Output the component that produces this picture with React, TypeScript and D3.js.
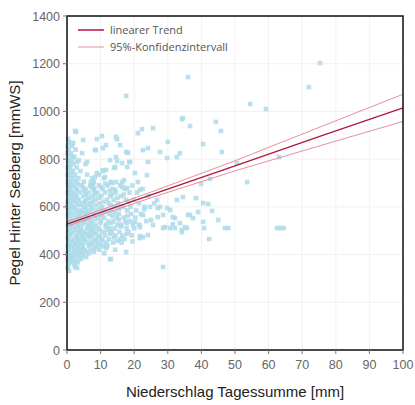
import React from "react";
import * as d3 from "d3";

// Niederschlag [mm] / Pegel [mmWS]
const kernPunkte: [number, number][] = [
  [0.3, 690], [1.8, 690], [4.2, 690], [6.9, 690], [9.5, 690], [12.1, 690], [15.8, 690], [19.4, 690],
  [0.8, 675], [2.9, 675], [5.5, 675], [8.1, 675], [10.7, 675], [13.6, 675], [17.2, 675], [22.5, 675],
  [0.2, 660], [1.6, 660], [3.8, 660], [6.4, 660], [9.0, 660], [11.3, 660], [14.5, 660], [18.6, 660], [20.9, 660],
  [1.1, 645], [2.7, 645], [4.9, 645], [7.6, 645], [10.2, 645], [12.8, 645], [16.1, 645], [24.3, 645],
  [0.4, 630], [2.0, 630], [3.5, 630], [5.8, 630], [8.4, 630], [11.9, 630], [13.9, 630], [17.5, 630], [19.8, 630],
  [0.9, 615], [3.1, 615], [4.6, 615], [6.8, 615], [9.7, 615], [12.4, 615], [15.2, 615], [21.4, 615], [26.0, 615],
  [0.1, 600], [1.5, 600], [2.4, 600], [5.1, 600], [7.3, 600], [10.5, 600], [14.1, 600], [16.7, 600], [18.9, 600], [23.1, 600],
  [0.7, 585], [3.3, 585], [4.4, 585], [6.1, 585], [8.8, 585], [11.5, 585], [13.0, 585], [17.9, 585], [20.6, 585],
  [0.3, 570], [1.9, 570], [3.9, 570], [5.6, 570], [7.9, 570], [9.9, 570], [12.6, 570], [15.4, 570], [19.1, 570], [22.0, 570],
  [1.2, 555], [2.6, 555], [4.8, 555], [6.6, 555], [9.2, 555], [11.0, 555], [14.8, 555], [16.9, 555], [20.3, 555],
  [0.5, 540], [2.2, 540], [3.6, 540], [5.3, 540], [7.1, 540], [10.1, 540], [12.2, 540], [13.8, 540], [17.4, 540], [18.8, 540], [23.6, 540],
  [0.2, 525], [1.4, 525], [3.0, 525], [4.3, 525], [6.3, 525], [8.5, 525], [11.7, 525], [15.0, 525], [16.2, 525], [19.6, 525], [21.5, 525],
  [0.8, 510], [2.4, 510], [4.0, 510], [5.9, 510], [7.7, 510], [9.4, 510], [12.9, 510], [14.2, 510], [17.7, 510], [20.0, 510],
  [0.3, 495], [1.7, 495], [3.4, 495], [5.0, 495], [6.7, 495], [8.2, 495], [10.8, 495], [13.3, 495], [15.6, 495], [18.3, 495],
  [1.0, 480], [2.8, 480], [4.5, 480], [6.2, 480], [7.4, 480], [9.8, 480], [11.4, 480], [14.4, 480], [16.5, 480], [19.3, 480],
  [0.4, 465], [2.1, 465], [3.7, 465], [5.4, 465], [8.6, 465], [10.3, 465], [12.5, 465], [15.9, 465], [17.1, 465],
  [0.9, 450], [2.5, 450], [4.1, 450], [6.0, 450], [7.2, 450], [9.1, 450], [11.8, 450], [13.7, 450], [16.3, 450],
  [0.2, 435], [1.6, 435], [3.2, 435], [4.7, 435], [6.5, 435], [8.9, 435], [10.6, 435], [12.0, 435],
  [0.6, 420], [2.3, 420], [3.9, 420], [5.2, 420], [7.0, 420], [9.6, 420], [14.3, 420],
  [0.1, 405], [1.3, 405], [2.9, 405], [4.4, 405], [6.6, 405], [11.1, 405],
  [0.7, 390], [2.0, 390], [3.6, 390], [5.7, 390], [12.8, 381],
  [0.3, 375], [1.5, 375], [2.7, 375],
  [0.5, 360], [2.2, 360], [0.2, 345], [3.0, 344], [2.4, 348], [0.6, 332],
];

const fuellPunkte: [number, number][] = [
  [1.0, 697], [3.2, 697], [7.8, 697], [11.4, 697],
  [0.5, 683], [2.3, 683], [4.7, 683], [7.2, 683], [10.1, 683], [16.5, 683],
  [1.2, 668], [3.0, 668], [5.1, 668], [8.0, 668], [12.7, 668],
  [0.6, 652], [2.2, 652], [5.5, 652], [8.3, 652], [13.3, 652], [16.9, 652],
  [1.4, 638], [3.0, 638], [6.6, 638], [9.5, 638], [15.0, 638],
  [0.2, 622], [2.0, 622], [5.3, 622], [7.6, 622], [11.0, 622], [18.2, 622],
  [1.0, 607], [3.8, 607], [6.0, 607], [8.6, 607], [13.0, 607],
  [0.4, 592], [2.1, 592], [5.4, 592], [7.4, 592], [9.9, 592], [15.6, 592],
  [1.1, 577], [2.9, 577], [4.8, 577], [6.9, 577], [11.0, 577], [14.2, 577],
  [0.3, 562], [3.6, 562], [5.7, 562], [8.0, 562], [10.3, 562], [13.5, 562], [18.0, 562],
  [1.0, 547], [4.0, 547], [6.0, 547], [8.4, 547], [15.5, 547],
  [0.7, 532], [2.6, 532], [5.2, 532], [7.3, 532], [10.0, 532], [13.1, 532], [17.8, 532],
  [1.5, 517], [3.3, 517], [6.6, 517], [8.0, 517], [11.5, 517], [16.0, 517],
  [0.4, 502], [2.4, 502], [4.2, 502], [7.2, 502], [9.7, 502], [12.1, 502],
  [1.2, 487], [3.8, 487], [5.6, 487], [8.5, 487], [12.9, 487], [17.8, 487],
  [0.2, 472], [2.9, 472], [4.7, 472], [6.9, 472], [9.3, 472], [14.0, 472],
  [1.4, 457], [3.2, 457], [5.2, 457], [8.0, 457], [10.6, 457], [15.0, 457],
  [0.5, 442], [2.4, 442], [4.3, 442], [7.5, 442], [9.9, 442],
  [1.2, 427], [3.1, 427], [4.6, 427], [8.2, 427], [11.6, 427],
  [0.5, 412], [2.2, 412], [3.7, 412], [5.6, 412], [8.0, 412],
  [1.2, 397], [2.9, 397], [4.6, 397],
  [0.2, 382], [1.5, 382], [4.2, 382],
  [1.0, 367], [3.2, 367],
];

const randPunkte: [number, number][] = [
  [0.2, 705], [1.3, 705], [2.6, 705], [5.0, 705], [8.0, 705], [13.0, 705],
  [0.6, 720], [1.9, 720], [3.4, 720], [7.5, 720], [11.0, 720],
  [0.1, 735], [1.1, 735], [2.4, 735], [6.0, 735], [9.5, 735],
  [0.5, 750], [1.7, 750], [4.0, 750], [10.7, 750],
  [0.2, 765], [1.0, 765], [2.9, 765], [14.3, 767],
  [0.7, 780], [1.8, 780], [5.5, 780],
  [0.3, 795], [1.4, 795], [3.5, 795],
  [0.8, 810], [2.1, 810], [0.1, 825], [1.2, 825], [4.5, 825],
  [0.5, 840], [2.6, 840], [0.2, 855], [1.5, 855], [0.6, 870], [1.8, 868], [0.3, 885],
];

const streuPunkte: [number, number][] = [
  [2.4, 918], [10.4, 897], [8.9, 884], [4.8, 880], [14.9, 884], [21.1, 909], [22.3, 926], [25.6, 930],
  [34.2, 968], [30.0, 872], [15.8, 859], [8.3, 838], [10.7, 846], [22.6, 838], [24.1, 846], [27.7, 830],
  [18.2, 826], [3.0, 788], [6.0, 788], [12.8, 796], [14.9, 792], [18.8, 788], [24.1, 788], [32.7, 809],
  [29.8, 805], [10.7, 754], [17.9, 767], [8.3, 725], [11.3, 725], [20.2, 742], [21.1, 704], [23.8, 733],
  [13.4, 700], [16.4, 704], [17.9, 679], [14.3, 671], [7.7, 683], [21.7, 671], [26.8, 629], [27.7, 600],
  [32.7, 629], [34.5, 641], [24.7, 600], [29.8, 595], [31.5, 557], [27.0, 557], [22.6, 566], [33.6, 532],
  [20.2, 536], [21.7, 515], [22.6, 473], [25.6, 524], [27.0, 595], [28.6, 566], [30.7, 587], [32.1, 553],
  [36.6, 566], [28.6, 511], [30.7, 511], [32.1, 511], [35.1, 515], [21.7, 469], [13.1, 381], [17.6, 411],
  [28.6, 348], [21.7, 478], [24.1, 482], [29.2, 515], [31.5, 527], [34.2, 503], [2.7, 914], [14.6, 893],
  [11.6, 859], [8.6, 838], [17.6, 830], [14.6, 809], [2.1, 809], [16.4, 784], [18.5, 788], [14.0, 763],
  [11.6, 754], [8.9, 742], [7.1, 704], [14.6, 704], [17.0, 712], [19.5, 455], [23.0, 590], [25.0, 545],
];

const ausreisser: [number, number][] = [
  [75.3, 1203], [36.0, 1144], [17.6, 1065], [72.0, 1102], [54.5, 1031], [59.2, 1010], [34.5, 972],
  [36.6, 939], [44.3, 956], [45.8, 918], [40.5, 863], [33.6, 825], [46.1, 830], [50.6, 784], [63.1, 809],
  [53.6, 704], [39.9, 696], [42.6, 717], [38.4, 637], [40.5, 616], [42.0, 612], [43.2, 583], [36.0, 566],
  [37.5, 553], [39.0, 578], [40.5, 537], [45.0, 545], [35.7, 511], [34.2, 494], [40.8, 511], [47.0, 511],
  [48.0, 511], [62.5, 511], [63.5, 511], [64.5, 511], [42.3, 465],
];

// Regression und Konfidenzintervall
const trendX = [0, 25, 50, 75, 100];
const trendY = [528, 650, 772, 894, 1015];
const kiOben = [537, 662, 793, 933, 1072];
const kiUnten = [519, 638, 751, 855, 958];

const xTicks = [0, 10, 20, 30, 40, 50, 60, 70, 80, 90, 100];
const yTicks = [0, 200, 400, 600, 800, 1000, 1200, 1400];

const W = 415;
const H = 405;
const margin = { top: 16, right: 12, bottom: 55, left: 67 };

export default function App() {
  const x = d3.scaleLinear().domain([0, 100]).range([margin.left, W - margin.right]);
  const y = d3.scaleLinear().domain([0, 1400]).range([H - margin.bottom, margin.top]);

  const alle = [...kernPunkte, ...fuellPunkte, ...randPunkte, ...streuPunkte, ...ausreisser];
  const line = (ys: number[]) =>
    d3.line<number>().x((_, i) => x(trendX[i])).y((d) => y(d))(ys) || "";

  const s = 4.6;
  const x0 = x(0), x1 = x(100), y0 = y(0), y1 = y(1400);

  return (
    <svg
      width={W}
      height={H}
      style={{ position: "absolute", left: 0, top: 0, background: "#fff" }}
      fontFamily="'Liberation Sans', Arial, sans-serif"
    >
      {/* Gitter */}
      {xTicks.map((t) => (
        <line key={"gx" + t} x1={x(t)} x2={x(t)} y1={y1} y2={y0} stroke="#f1f1f1" />
      ))}
      {yTicks.map((t) => (
        <line key={"gy" + t} x1={x0} x2={x1} y1={y(t)} y2={y(t)} stroke="#f1f1f1" />
      ))}

      {/* Messpunkte */}
      <g fill="#addbe9" fillOpacity={0.85}>
        {alle.map(([nx, py], i) => (
          <rect key={i} x={x(nx) - s / 2} y={y(py) - s / 2} width={s} height={s} />
        ))}
      </g>

      {/* Trend */}
      <path d={line(kiOben)} fill="none" stroke="#e58f9f" strokeWidth={1} />
      <path d={line(kiUnten)} fill="none" stroke="#e58f9f" strokeWidth={1} />
      <path d={line(trendY)} fill="none" stroke="#b3163c" strokeWidth={1.3} />

      {/* Rahmen */}
      <rect x={x0} y={y1} width={x1 - x0} height={y0 - y1} fill="none" stroke="#111" strokeWidth={1.5} />

      {/* Achsen */}
      {xTicks.map((t) => (
        <g key={"tx" + t}>
          <line x1={x(t)} x2={x(t)} y1={y0} y2={y0 + 4} stroke="#777" />
          <text x={x(t)} y={y0 + 19} textAnchor="middle" fontSize={12.5} fill="#666">
            {t}
          </text>
        </g>
      ))}
      {yTicks.map((t) => (
        <g key={"ty" + t}>
          <line x1={x0 - 4} x2={x0} y1={y(t)} y2={y(t)} stroke="#777" />
          <text x={x0 - 7} y={y(t) + 4.5} textAnchor="end" fontSize={12.5} fill="#666">
            {t}
          </text>
        </g>
      ))}
      <text x={(x0 + x1) / 2} y={H - 8} textAnchor="middle" fontSize={15} fill="#222">
        Niederschlag Tagessumme [mm]
      </text>
      <text
        transform={`translate(20,${(y0 + y1) / 2}) rotate(-90)`}
        textAnchor="middle"
        fontSize={15}
        fill="#222"
      >
        Pegel Hinter Seeberg [mmWS]
      </text>

      {/* Legende */}
      <g fontFamily="'Open Sans', 'DejaVu Sans', sans-serif" fontSize={11} fill="#555">
        <line x1={78} x2={104} y1={30} y2={30} stroke="#b3163c" strokeWidth={1.5} />
        <text x={110} y={34}>linearer Trend</text>
        <line x1={78} x2={104} y1={47} y2={47} stroke="#e58f9f" strokeWidth={1} />
        <text x={110} y={51}>95%-Konfidenzintervall</text>
      </g>
    </svg>
  );
}
